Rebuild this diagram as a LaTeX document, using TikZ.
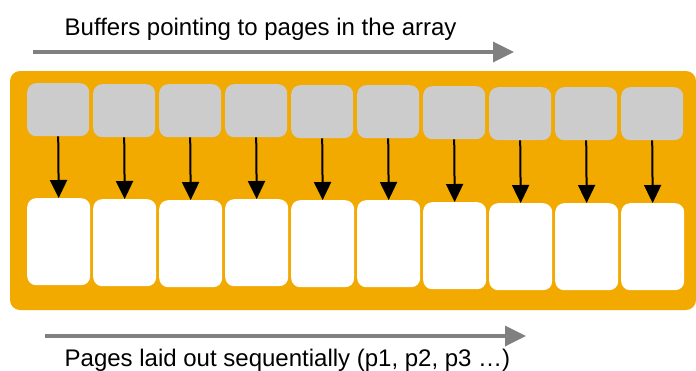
\documentclass[tikz,border=0pt]{standalone}
\usepackage{fontspec}
\setmainfont{Liberation Sans}
\usetikzlibrary{arrows.meta}
\definecolor{orangebg}{HTML}{F2A900}
\definecolor{bufgray}{HTML}{CCCCCC}
\definecolor{arrgray}{HTML}{808080}
\begin{document}
\begin{tikzpicture}[x=1pt,y=-1pt,
 panel/.style={fill=orangebg, rounded corners=10pt},
 bufbox/.style={fill=bufgray, rounded corners=9pt, draw=none, inner sep=0pt, anchor=north west, minimum width=62pt, minimum height=53pt},
 pagebox/.style={fill=white, rounded corners=9pt, draw=none, inner sep=0pt, anchor=north west, minimum width=63pt, minimum height=87pt},
 ptr/.style={draw=black, line width=2pt, -{Triangle[length=18pt,width=17pt]}},
 flow/.style={draw=arrgray, line width=3.5pt, -{Triangle[length=21pt,width=20pt]}},
 lbl/.style={font=\fontsize{24}{28}\selectfont, inner sep=0pt, anchor=base west}]
\path[use as bounding box] (0,0) rectangle (696,370);
\fill[panel] (10,71) rectangle (696,310);
\foreach \i/\bt/\pt in {1/83/198, 2/84/199, 3/84/200, 4/84/199, 5/85/200, 6/85/200, 7/86/202, 8/87/203, 9/87/203, 10/87/203}{
  \node[bufbox] (b\i) at ({27+66*(\i-1)},\bt) {};
  \node[pagebox] (p\i) at ({27+66*(\i-1)},\pt) {};
  \draw[ptr] (b\i.south) -- (p\i.north);
}
\coordinate (ts) at (33,52);
\coordinate (te) at (514,52);
\draw[flow] (ts) -- (te);
\coordinate (bs) at (45,336);
\coordinate (be) at (526,336);
\draw[flow] (bs) -- (be);
\node[lbl] (toplbl) at (64.5,35.5) {Buffers pointing to pages in the array};
\node[lbl] (botlbl) at (64.5,366.5) {Pages laid out sequentially (p1, p2, p3 …)};
\end{tikzpicture}
\end{document}
